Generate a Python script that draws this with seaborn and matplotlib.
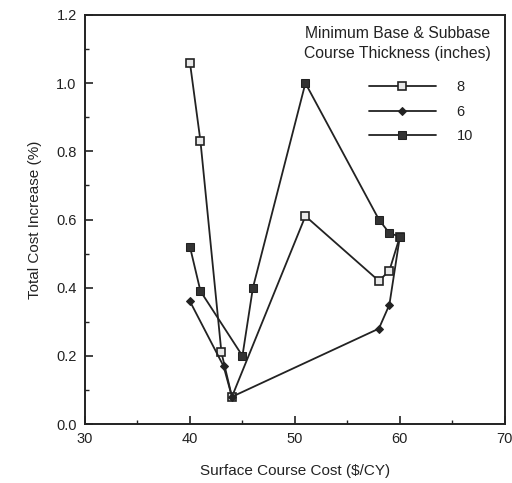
import matplotlib
matplotlib.use("Agg")
import matplotlib.pyplot as plt
import seaborn as sns
import pandas as pd
from matplotlib.ticker import MultipleLocator

sns.set_theme(style="white")
plt.rcParams['font.family'] = ['Liberation Sans', 'DejaVu Sans']

# Series data
x_8 = [40, 41, 43, 44, 51, 58, 59, 60]
y_8 = [1.06, 0.83, 0.21, 0.08, 0.61, 0.42, 0.45, 0.55]

x_6 = [40, 43.2, 44, 58, 59, 60]
y_6 = [0.36, 0.17, 0.08, 0.28, 0.35, 0.55]

x_10 = [40, 41, 45, 46, 51, 58, 59, 60]
y_10 = [0.52, 0.39, 0.20, 0.40, 1.00, 0.60, 0.56, 0.55]

labels = ["8", "6", "10"]
x_ticks = [30, 40, 50, 60, 70]
y_ticks = [0.0, 0.2, 0.4, 0.6, 0.8, 1.0, 1.2]

fig = plt.figure(figsize=(5.12, 4.83), dpi=100)
ax = fig.add_axes([0.166, 0.122, 0.820, 0.847])

styles = {
    "8": dict(marker="s", markersize=5.5, markerfacecolor="#e8e8e8", markeredgecolor="#222222", markeredgewidth=1.2),
    "6": dict(marker="D", markersize=4.0, markerfacecolor="#222222", markeredgecolor="#222222"),
    "10": dict(marker="s", markersize=5.5, markerfacecolor="#333333", markeredgecolor="#222222"),
}

for lab, xs, ys in [("8", x_8, y_8), ("6", x_6, y_6), ("10", x_10, y_10)]:
    df = pd.DataFrame({"x": xs, "y": ys})
    sns.lineplot(data=df, x="x", y="y", sort=False, estimator=None, ax=ax,
                 color="#222222", linewidth=1.3, label=lab, **styles[lab])

ax.set_xlim(30, 70)
ax.set_ylim(0, 1.2)
ax.set_xticks(x_ticks)
ax.set_yticks(y_ticks)
ax.set_xticklabels([str(v) for v in x_ticks])
ax.set_yticklabels([f"{v:.1f}" for v in y_ticks])
ax.xaxis.set_minor_locator(MultipleLocator(5))
ax.yaxis.set_minor_locator(MultipleLocator(0.1))
ax.tick_params(axis="both", which="major", direction="in", length=6, width=1.2,
               labelsize=10.5, color="#222222", labelcolor="#222222", bottom=True, left=True)
ax.tick_params(axis="both", which="minor", direction="in", length=3, width=1.0,
               color="#222222", bottom=True, left=True)
ax.tick_params(axis="x", pad=6)
ax.tick_params(axis="y", pad=6)
for sp in ax.spines.values():
    sp.set_color("#222222")
    sp.set_linewidth(1.4)

ax.set_xlabel("Surface Course Cost ($/CY)", fontsize=11, color="#222222", labelpad=13)
ax.set_ylabel("Total Cost Increase (%)", fontsize=11, color="#222222", labelpad=10)

ax.text(0.745, 0.972, "Minimum Base & Subbase\nCourse Thickness (inches)",
        transform=ax.transAxes, ha="center", va="top", fontsize=11.3,
        color="#222222", linespacing=1.35)
leg = ax.legend(loc="upper left", bbox_to_anchor=(0.645, 0.872), frameon=False,
                handlelength=4.6, handletextpad=1.4, labelspacing=0.7, fontsize=10.5)
for t in leg.get_texts():
    t.set_color("#222222")

fig.savefig("out.png", dpi=100)
